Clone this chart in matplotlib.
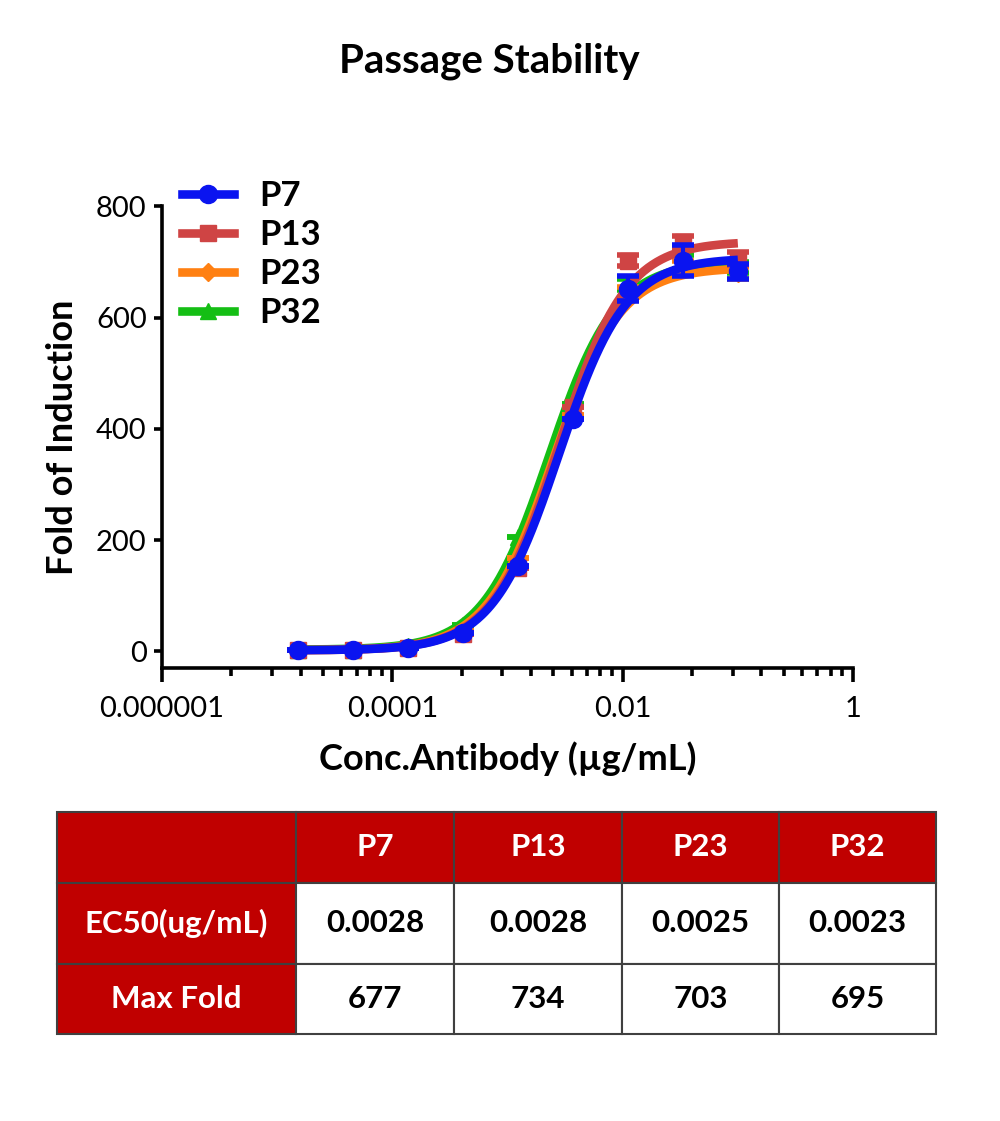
import matplotlib
matplotlib.use("Agg")
import matplotlib.pyplot as plt
from matplotlib.ticker import FixedLocator, NullFormatter
import numpy as np

plt.rcParams['font.family'] = ['Lato', 'DejaVu Sans']

# concentrations (ug/mL), 3-fold dilution series
conc = [1.52e-5, 4.57e-5, 1.37e-4, 4.12e-4, 1.23e-3, 3.70e-3, 1.11e-2, 3.33e-2, 0.1]

names = ['P7', 'P13', 'P23', 'P32']
p7 = [2, 2, 6, 34, 153, 418, 652, 702, 683]
p13 = [2, 2, 6, 32, 150, 440, 702, 735, 706]
p23 = [2, 2, 7, 36, 168, 425, 645, 690, 680]
p32 = [3, 3, 9, 48, 205, 445, 660, 700, 690]
p7_err = [0, 0, 0, 0, 0, 0, 22, 28, 14]
p13_err = [0, 0, 0, 0, 0, 0, 10, 12, 12]
p23_err = [0, 0, 0, 0, 0, 0, 10, 12, 10]
p32_err = [0, 0, 0, 0, 0, 0, 10, 12, 10]

# 4PL fit parameters
bottom = [2, 2, 2, 3]
top = [707, 737, 690, 700]
ec50 = [0.0028, 0.0028, 0.0025, 0.0023]
hill = [1.5, 1.5, 1.5, 1.5]

# table values
row_labels = ['EC50(ug/mL)', 'Max Fold']
ec50_txt = ['0.0028', '0.0028', '0.0025', '0.0023']
maxfold_txt = ['677', '734', '703', '695']

colors = ['#0A14F0', '#CF4444', '#FF8012', '#14BE14']
markers = ['o', 's', 'D', '^']
msizes = [13, 12, 9, 12]
series = [p7, p13, p23, p32]
errs = [p7_err, p13_err, p23_err, p32_err]

fig = plt.figure(figsize=(10, 11.21), dpi=100)
ax = fig.add_axes([0.162, 0.404, 0.691, 0.412])

xs = np.logspace(np.log10(conc[0]), np.log10(conc[-1]), 300)
handles = {}
for i in [3, 2, 1, 0]:  # blue drawn last, on top
    z = 10 - 2 * i
    yfit = bottom[i] + (top[i] - bottom[i]) / (1 + (ec50[i] / xs) ** hill[i])
    ax.plot(xs, yfit, color=colors[i], lw=6.2, solid_capstyle='butt', zorder=z)
    ax.errorbar(conc, series[i], yerr=errs[i], fmt='none', ecolor=colors[i],
                elinewidth=3, capsize=8, capthick=4, zorder=z + 1)
    ax.plot(conc, series[i], ls='none', marker=markers[i], ms=msizes[i],
            color=colors[i], zorder=z + 1)
    h, = ax.plot([], [], color=colors[i], lw=6.2, marker=markers[i], ms=msizes[i])
    handles[i] = h

ax.set_xscale('log')
ax.set_xlim(1e-6, 1)
ax.set_ylim(-30, 800)
ax.set_yticks([0, 200, 400, 600, 800])
ax.xaxis.set_major_locator(FixedLocator([1e-6, 1e-4, 1e-2, 1]))
ax.set_xticklabels(['0.000001', '0.0001', '0.01', '1'])
minor = [b * k ** 2 for b in [1e-6, 1e-4, 1e-2] for k in range(2, 10)]
ax.xaxis.set_minor_locator(FixedLocator(minor))
ax.xaxis.set_minor_formatter(NullFormatter())

for s in ['top', 'right']:
    ax.spines[s].set_visible(False)
for s in ['left', 'bottom']:
    ax.spines[s].set_linewidth(2.6)
ax.tick_params(axis='x', which='major', length=10, width=2.6, labelsize=21, pad=10)
ax.tick_params(axis='x', which='minor', length=6, width=2.6)
ax.tick_params(axis='y', which='major', length=6, width=2.6, labelsize=21, pad=5)

ax.set_ylabel('Fold of Induction', fontsize=26, fontweight='bold', labelpad=12)
ax.set_xlabel('Conc.Antibody (\u00b5g/mL)', fontsize=26, fontweight='bold', labelpad=14)
fig.text(0.489, 0.945, 'Passage Stability', fontsize=29, fontweight='bold',
         ha='center', va='center')

leg = fig.legend([handles[i] for i in range(4)], names, loc='upper left',
                 bbox_to_anchor=(0.176, 0.855), frameon=False, borderpad=0,
                 handlelength=1.5, handletextpad=0.7, labelspacing=0.2,
                 prop={'size': 25, 'weight': 'bold'})
leg.set_bbox_to_anchor((0.165, 0.855), transform=fig.transFigure)

# summary table
tax = fig.add_axes([0.057, 1 - 1034 / 1121, 0.879, 222 / 1121])
tax.axis('off')
cell_text = [[''] + names, [row_labels[0]] + ec50_txt, [row_labels[1]] + maxfold_txt]
col_w = [239, 158, 168, 157, 157]
col_w = [w / sum(col_w) for w in col_w]
tbl = tax.table(cellText=cell_text, colWidths=col_w, cellLoc='center',
                bbox=[0, 0, 1, 1])
tbl.auto_set_font_size(False)
row_h = [71, 81, 70]
red = '#C00000'
for (r, c), cell in tbl.get_celld().items():
    cell.set_height(row_h[r] / sum(row_h))
    cell.set_edgecolor('#404040')
    cell.set_linewidth(1.5)
    txt = cell.get_text()
    txt.set_fontsize(22.5)
    txt.set_fontweight('bold')
    if r == 0 or c == 0:
        cell.set_facecolor(red)
        txt.set_color('white')
    else:
        cell.set_facecolor('white')
        txt.set_color('black')

fig.savefig('out.png', dpi=100)
